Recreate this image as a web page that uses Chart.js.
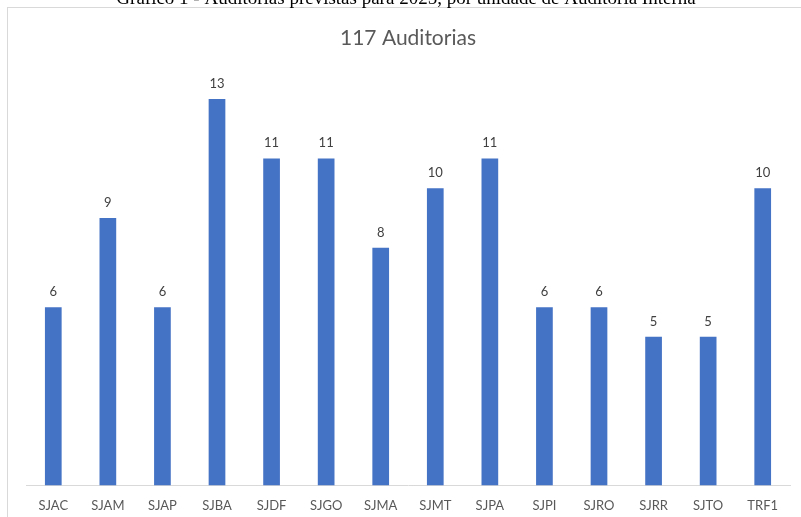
<!DOCTYPE html>
<html>
<head>
<meta charset="utf-8">
<script src="https://cdn.jsdelivr.net/npm/chart.js@4.4.1/dist/chart.umd.min.js"></script>
<style>
html,body{margin:0;padding:0;background:#fff;}
#wrap{width:801px;height:517px;}
</style>
</head>
<body>
<div id="wrap"><canvas id="c" width="801" height="517"></canvas></div>
<script>
const caption = "Gráfico 1 - Auditorias previstas para 2025, por unidade de Auditoria Interna";
const chartTitle = "117 Auditorias";
const categories = ["SJAC","SJAM","SJAP","SJBA","SJDF","SJGO","SJMA","SJMT","SJPA","SJPI","SJRO","SJRR","SJTO","TRF1"];
const auditorias = [6,9,6,13,11,11,8,10,11,6,6,5,5,10];

const framePlugin = {
  id: 'frame',
  beforeDraw(chart) {
    const ctx = chart.ctx;
    ctx.save();
    ctx.fillStyle = '#fff';
    ctx.fillRect(0, 0, chart.width, chart.height);
    ctx.strokeStyle = '#d9d9d9';
    ctx.lineWidth = 1;
    ctx.strokeRect(7.5, 7.5, 820, 600);
    ctx.fillStyle = '#000';
    ctx.font = '19px "Liberation Serif", "Times New Roman", serif';
    ctx.textAlign = 'center';
    ctx.textBaseline = 'alphabetic';
    ctx.fillText(caption, 406, 4);
    ctx.fillStyle = '#595959';
    ctx.font = '21px Lato, sans-serif';
    ctx.textBaseline = 'middle';
    ctx.fillText(chartTitle, 408, 38);
    ctx.restore();
  }
};

const labelPlugin = {
  id: 'vals',
  afterDatasetsDraw(chart) {
    const ctx = chart.ctx;
    const meta = chart.getDatasetMeta(0);
    ctx.save();
    ctx.fillStyle = '#404040';
    ctx.font = '13px Lato, sans-serif';
    ctx.textAlign = 'center';
    ctx.textBaseline = 'alphabetic';
    meta.data.forEach((bar, i) => {
      ctx.fillText(String(chart.data.datasets[0].data[i]), bar.x, bar.y - 11);
    });
    ctx.restore();
  }
};

new Chart(document.getElementById('c'), {
  type: 'bar',
  data: {
    labels: categories,
    datasets: [{
      data: auditorias,
      backgroundColor: '#4472C4',
      borderWidth: 0,
      barPercentage: 0.306,
      categoryPercentage: 1.0
    }]
  },
  options: {
    responsive: false,
    animation: false,
    layout: { padding: { left: 26, right: 11, top: 69.3, bottom: 0 } },
    plugins: { legend: { display: false }, title: { display: false }, tooltip: { enabled: false } },
    scales: {
      x: {
        grid: { display: false, drawTicks: false },
        border: { display: true, color: '#d9d9d9', width: 1 },
        ticks: { color: '#595959', font: { family: 'Lato, sans-serif', size: 13 }, padding: 13, maxRotation: 0, autoSkip: false },
        afterFit(scale) { scale.height = 31.5; }
      },
      y: {
        display: false,
        min: 0,
        max: 14
      }
    }
  },
  plugins: [framePlugin, labelPlugin]
});
</script>
</body>
</html>
